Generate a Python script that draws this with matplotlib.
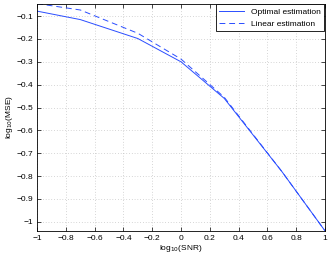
import numpy as np
import matplotlib
matplotlib.use("Agg")
import matplotlib.pyplot as plt

plt.rcParams['font.family'] = ['Liberation Sans', 'DejaVu Sans']

# log10 of SNR = 0.1, 0.2, 0.5, 1, 2, 5, 10
snr_log = [-1, -0.7, -0.3, 0, 0.3, 0.7, 1]
mse_optimal = [-0.078, -0.115, -0.198, -0.30, -0.46, -0.78, -1.04]
mse_linear = [-0.045, -0.073, -0.175, -0.288, -0.455, -0.78, -1.04]

fig = plt.figure(figsize=(3.31, 2.56), dpi=100)
ax = fig.add_axes([0.112, 0.098, 0.87, 0.888])

ax.plot(snr_log, mse_optimal, color="#2a4dff", linewidth=0.7, label="Optimal estimation")
ax.plot(snr_log, mse_linear, color="#2a4dff", linewidth=0.7, linestyle=(0, (6, 4)), label="Linear estimation")

ax.set_xlim(min(snr_log), max(snr_log))
ax.set_ylim(min(mse_optimal + mse_linear), max(mse_optimal + mse_linear))
ax.set_xticks(np.arange(-1, 1.01, 0.2))
ax.set_xticklabels(["\u22121", "\u22120.8", "\u22120.6", "\u22120.4", "\u22120.2", "0", "0.2", "0.4", "0.6", "0.8", "1"])
ax.set_yticks(np.arange(-1, -0.05, 0.1))
ax.set_yticklabels(["\u22121", "\u22120.9", "\u22120.8", "\u22120.7", "\u22120.6", "\u22120.5", "\u22120.4", "\u22120.3", "\u22120.2", "\u22120.1"])

ax.tick_params(direction="in", top=True, right=True, labelsize=6, length=3, width=0.5, pad=3)
ax.grid(True, linestyle=(0, (1, 3)), color="#b0b0b0", linewidth=0.5)
for s in ax.spines.values():
    s.set_linewidth(0.6)

ax.set_xlabel("log$_{10}$(SNR)", fontsize=6, labelpad=1)
ax.set_ylabel("log$_{10}$(MSE)", fontsize=6, labelpad=1)

leg = ax.legend(loc="upper right", fontsize=6, fancybox=False, edgecolor="black",
                framealpha=1, borderaxespad=0.1, handlelength=3.0, borderpad=0.4,
                labelspacing=0.5)
leg.get_frame().set_linewidth(0.6)

fig.savefig("out.png", dpi=100)
